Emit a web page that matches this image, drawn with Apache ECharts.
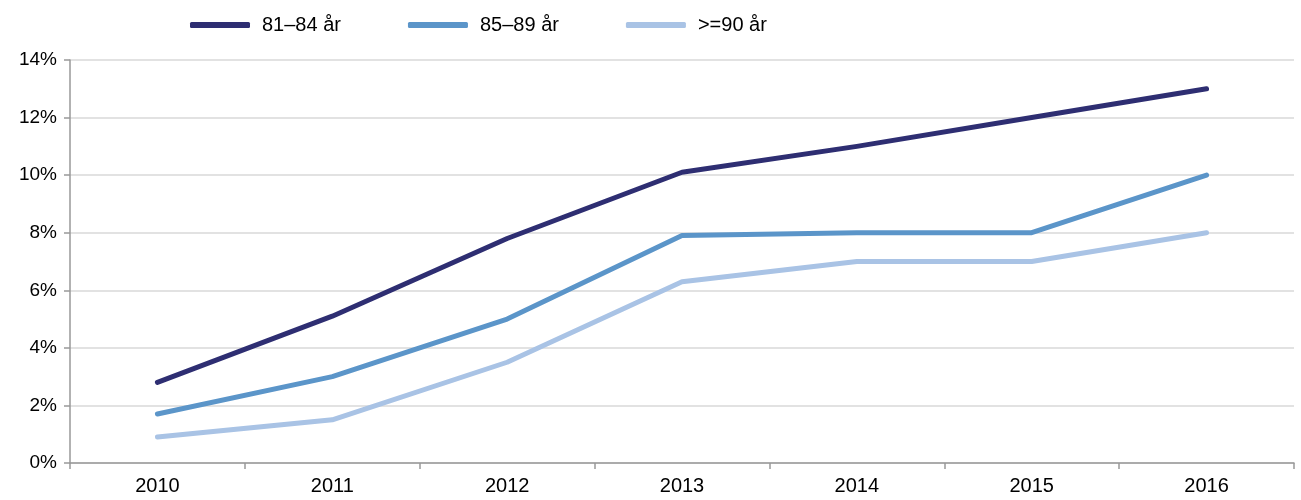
<!DOCTYPE html>
<html>
<head>
<meta charset="utf-8">
<script src="https://cdn.jsdelivr.net/npm/echarts@6/dist/echarts.min.js"></script>
<style>
  html, body { margin: 0; padding: 0; background: #fff; }
  #chart { width: 1301px; height: 500px; }
</style>
</head>
<body>
<div id="chart"></div>
<script>
var years = ["2010", "2011", "2012", "2013", "2014", "2015", "2016"];
var age81to84 = [2.8, 5.1, 7.8, 10.1, 11.0, 12.0, 13.0];
var age85to89 = [1.7, 3.0, 5.0, 7.9, 8.0, 8.0, 10.0];
var age90plus = [0.9, 1.5, 3.5, 6.3, 7.0, 7.0, 8.0];
var seriesNames = ["81–84 år", "85–89 år", ">=90 år"];
var colors = ["#2E2E72", "#5B95C9", "#A9C3E5"];

var chart = echarts.init(document.getElementById("chart"));

function makeLine(name, data, color) {
    return {
        name: name,
        type: "line",
        data: data,
        symbol: "none",
        lineStyle: { color: color, width: 5, cap: "round", join: "round" },
        itemStyle: { color: color }
    };
}

chart.setOption({
    animation: false,
    textStyle: { fontFamily: "Liberation Sans", color: "#000" },
    legend: {
        top: 10,
        left: 185,
        itemWidth: 60,
        itemHeight: 6,
        itemGap: 67,
        icon: "roundRect",
        textStyle: { fontSize: 20, color: "#000", padding: [0, 0, 0, 7] },
        data: seriesNames
    },
    grid: { left: 70, right: 7, top: 60, bottom: 37 },
    xAxis: {
        type: "category",
        data: years,
        boundaryGap: true,
        axisLine: { lineStyle: { color: "#999", width: 1.5 } },
        axisTick: { show: true, length: 6, lineStyle: { color: "#999", width: 1.5 } },
        axisLabel: { fontSize: 20, color: "#000", margin: 13 }
    },
    yAxis: {
        type: "value",
        min: 0,
        max: 14,
        interval: 2,
        axisLine: { show: true, lineStyle: { color: "#999", width: 1.5 } },
        axisTick: { show: true, length: 6, lineStyle: { color: "#999", width: 1.5 } },
        splitLine: { lineStyle: { color: "#D9D9D9", width: 1.5 } },
        axisLabel: { fontSize: 19, color: "#000", margin: 13, formatter: "{value}%" }
    },
    series: [
        makeLine(seriesNames[0], age81to84, colors[0]),
        makeLine(seriesNames[1], age85to89, colors[1]),
        makeLine(seriesNames[2], age90plus, colors[2])
    ]
});
</script>
</body>
</html>
